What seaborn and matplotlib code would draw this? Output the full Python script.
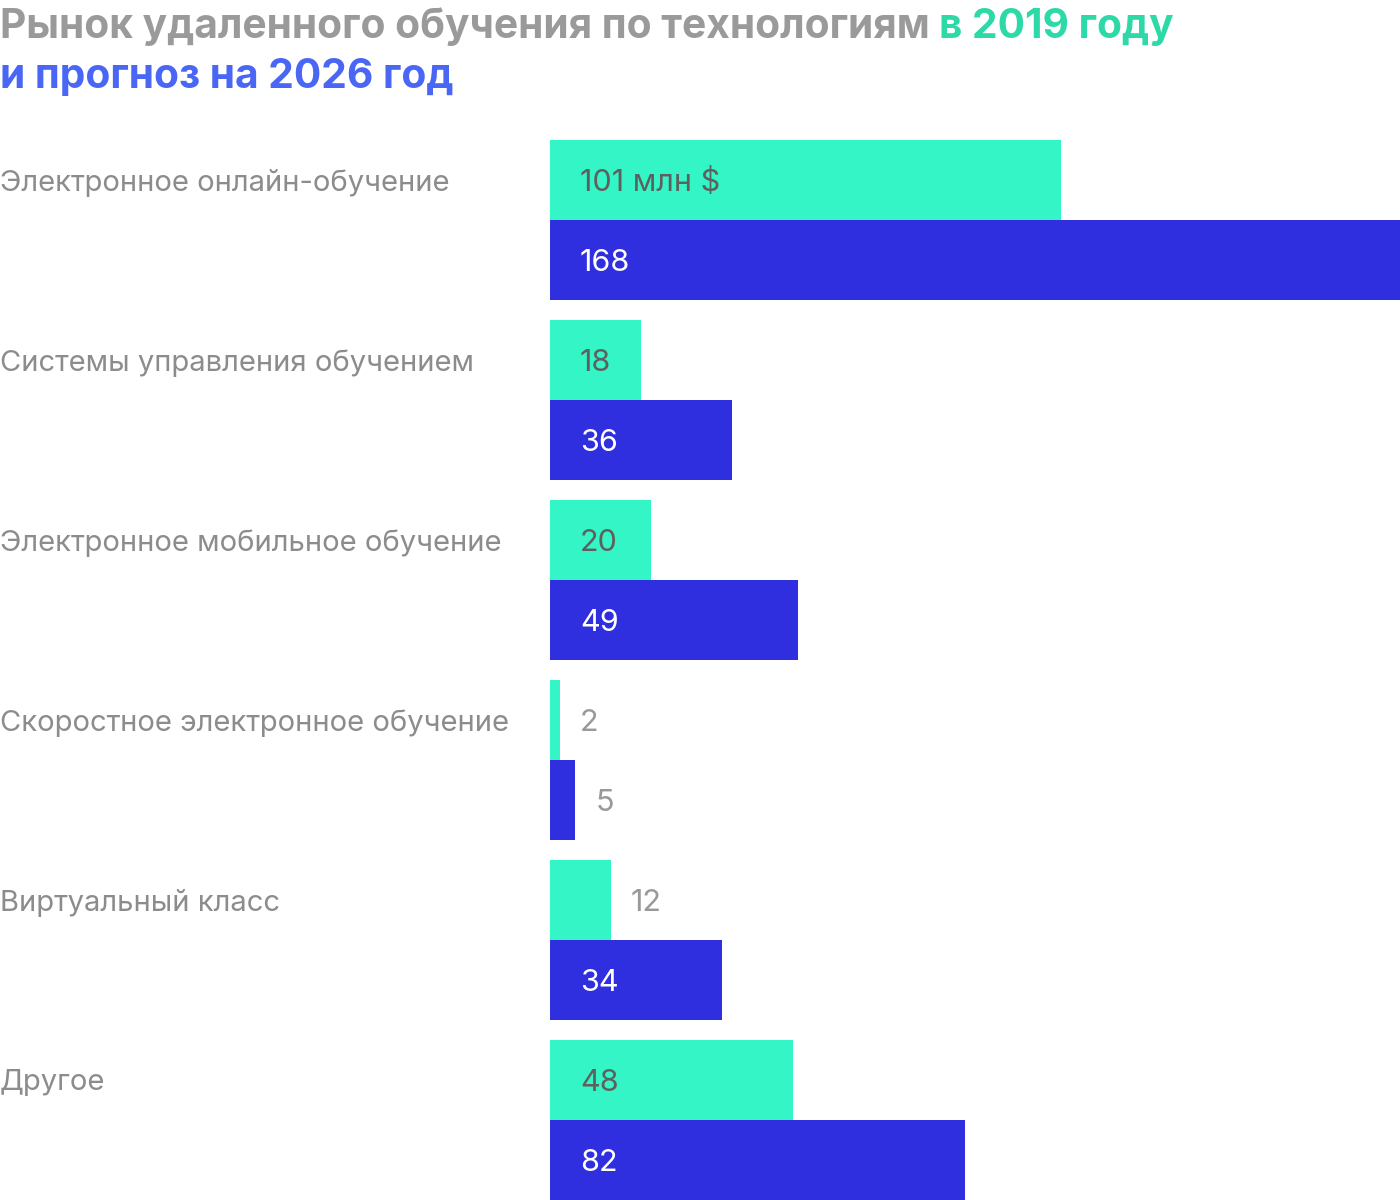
import matplotlib
matplotlib.use("Agg")
import matplotlib.pyplot as plt
import matplotlib.transforms as mtransforms
import seaborn as sns
import pandas as pd

categories = [
    "Электронное онлайн-обучение",
    "Системы управления обучением",
    "Электронное мобильное обучение",
    "Скоростное электронное обучение",
    "Виртуальный класс",
    "Другое",
]
values_2019 = [101, 18, 20, 2, 12, 48]
values_2026 = [168, 36, 49, 5, 34, 82]
years = ["2019", "2026"]

sns.set_theme(style="white")
plt.rcParams["font.family"] = ["Inter", "DejaVu Sans"]

df = pd.DataFrame({
    "category": categories * 2,
    "value": values_2019 + values_2026,
    "year": [years[0]] * len(categories) + [years[1]] * len(categories),
})

GREEN = "#33F5C5"
BLUE = "#2F2FE0"

fig = plt.figure(figsize=(14, 12), dpi=100)
ax = fig.add_axes([550 / 1400, 0, 850 / 1400, 1 - 140 / 1200])

W = 160 / 180
sns.barplot(data=df, y="category", x="value", hue="year", orient="h",
            palette=[GREEN, BLUE], width=W, dodge=True, legend=False,
            saturation=1, ax=ax, linewidth=0)
ax.set_xlim(0, 168)
ax.set_ylim(len(categories) - 1 + W / 2, -W / 2)
ax.axis("off")

half = W / 4
trans_lab = mtransforms.blended_transform_factory(fig.transFigure, ax.transData)
for i, cat in enumerate(categories):
    ax.text(0.0, i - half, cat, transform=trans_lab, ha="left", va="center_baseline",
            fontsize=21, color="#8C8C8C")

px = 72 / 100
for i in range(len(categories)):
    for j, vals in enumerate([values_2019, values_2026]):
        v = vals[i]
        y = i - half if j == 0 else i + half
        txt = str(v)
        if i == 0 and j == 0:
            txt = f"{v} млн $"
        if v >= 15:
            color = "#5F5F5F" if j == 0 else "white"
            ax.annotate(txt, xy=(0, y), xytext=(30 * px, 0), textcoords="offset points",
                        ha="left", va="center_baseline", fontsize=22, color=color)
        else:
            ax.annotate(txt, xy=(v, y), xytext=(20 * px, 0), textcoords="offset points",
                        ha="left", va="center_baseline", fontsize=22, color="#999999")

# Title with multiple colours
fig.canvas.draw()
renderer = fig.canvas.get_renderer()
def seq(parts, x0, ybase):
    x = x0
    for s, c in parts:
        t = fig.text(x, ybase, s, fontsize=29.3, fontweight="bold", color=c,
                     ha="left", va="baseline")
        bb = t.get_window_extent(renderer=renderer)
        x += bb.width / fig.bbox.width
seq([("Рынок удаленного обучения по технологиям ", "#9A9A9A"),
     ("в 2019 году", "#2ED9A8")], 0.0, 1 - 38 / 1200)
seq([("и прогноз на 2026 год", "#4A66F5")], 0.0, 1 - 88 / 1200)

fig.savefig("out.png", dpi=100)
